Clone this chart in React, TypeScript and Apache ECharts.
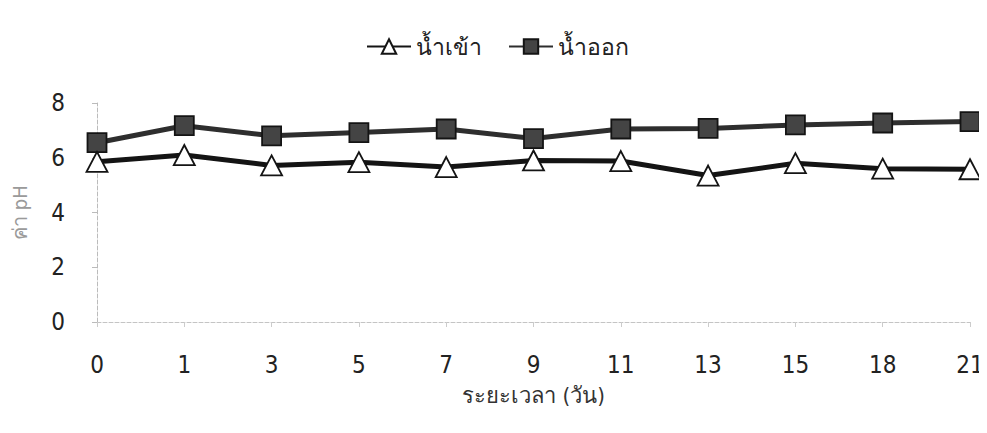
import React, { useEffect, useRef } from "react";
import * as echarts from "echarts";

const days = ["0", "1", "3", "5", "7", "9", "11", "13", "15", "18", "21"];
const waterIn = [5.85, 6.1, 5.72, 5.84, 5.66, 5.9, 5.88, 5.35, 5.8, 5.6, 5.58];
const waterOut = [6.55, 7.17, 6.8, 6.92, 7.05, 6.7, 7.05, 7.07, 7.2, 7.27, 7.32];
const seriesNames = ["น้ำเข้า", "น้ำออก"];
const yTicks = { min: 0, max: 8, interval: 2 };

export default function App() {
  const ref = useRef<HTMLDivElement>(null);
  useEffect(() => {
    const chart = echarts.init(ref.current!, null, { renderer: "svg" });
    const font = "'DejaVu Sans Condensed', 'Liberation Sans Narrow', 'Noto Sans', sans-serif";
    chart.setOption({
      animation: false,
      backgroundColor: "#ffffff",
      textStyle: { fontFamily: font },
      legend: {
        top: 22,
        left: "center",
        itemWidth: 44,
        itemHeight: 18,
        itemGap: 26,
        textStyle: { fontSize: 23, color: "#222", fontFamily: font },
        data: seriesNames,
      },
      grid: { left: 89, right: 17, top: 95, bottom: 103, containLabel: false, outerBoundsMode: "none" },
      xAxis: {
        type: "category",
        data: days,
        boundaryGap: false,
        name: "ระยะเวลา (วัน)",
        nameLocation: "middle",
        nameGap: 62,
        nameTextStyle: { fontSize: 22, color: "#333", fontFamily: font },
        axisLine: { lineStyle: { color: "#c4c4c4", type: "dashed", width: 1 } },
        axisTick: { show: true, length: 5, lineStyle: { color: "#ccc" } },
        axisLabel: { fontSize: 24, color: "#222", margin: 31, fontFamily: font },
        splitLine: { show: false },
      },
      yAxis: {
        type: "value",
        min: yTicks.min,
        max: yTicks.max,
        interval: yTicks.interval,
        name: "ค่า pH",
        nameLocation: "middle",
        nameGap: 67,
        nameTextStyle: { fontSize: 20, color: "#9a9a9a", fontFamily: font },
        axisLine: { show: true, lineStyle: { color: "#bbb", type: "dashed", width: 1 } },
        axisTick: { show: true, length: 5, lineStyle: { color: "#bbb" } },
        axisLabel: { fontSize: 24, color: "#222", margin: 32, fontFamily: font },
        splitLine: { show: false },
      },
      series: [
        {
          name: seriesNames[0],
          type: "line",
          data: waterIn,
          symbol: "triangle",
          symbolSize: [21, 20],
          lineStyle: { color: "#141414", width: 5 },
          itemStyle: { color: "#ffffff", borderColor: "#141414", borderWidth: 1.8 },
          z: 3,
        },
        {
          name: seriesNames[1],
          type: "line",
          data: waterOut,
          symbol: "rect",
          symbolSize: 19,
          lineStyle: { color: "#2e2e2e", width: 5 },
          itemStyle: { color: "#444444", borderColor: "#141414", borderWidth: 1.8 },
          z: 2,
        },
      ],
    });
    return () => chart.dispose();
  }, []);
  return <div ref={ref} style={{ width: 979, height: 417 }} />;
}
